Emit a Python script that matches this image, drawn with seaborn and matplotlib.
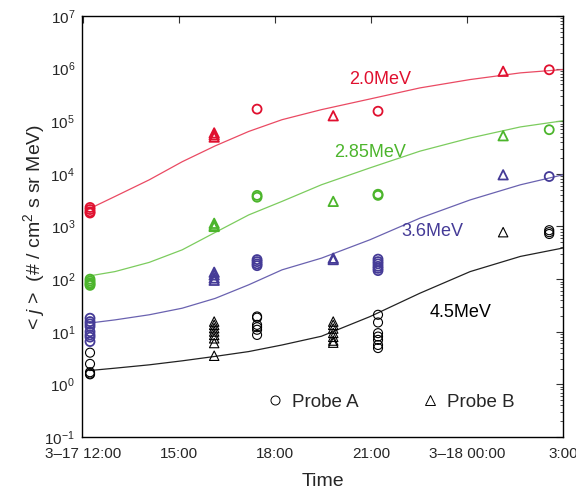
import numpy as np
import pandas as pd
import seaborn as sns
import matplotlib
matplotlib.use("Agg")
import matplotlib.pyplot as plt
from matplotlib.lines import Line2D
from matplotlib.ticker import LogLocator, LogFormatterSciNotation, FixedLocator, NullFormatter

# ---------------- data (hours since 3-17 00:00) ----------------
t_obs = [12.22, 16.10, 17.44, 19.82, 21.22, 25.13, 26.57]
probe_at = ["A", "B", "A", "B", "A", "B", "A"]

red_pts = [[2300, 2100, 1900, 1800], [60000, 55000, 50000], [170000], [127000],
           [155000], [890000], [950000]]
green_pts = [[100, 92, 85, 80, 76], [1150, 1050, 1000], [3900, 3600], [3000],
             [4100, 3900], [53000], [69000]]
blue_pts = [[18.1, 15.6, 14.1, 12.6, 10.0, 8.7, 7.9, 6.5], [135, 120, 105, 95],
            [235, 215, 195, 180], [250, 235], [240, 215, 195, 175, 160, 145],
            [9600], [8900]]
black_pts = [[4.0, 2.45, 1.7, 1.6, 1.55],
             [15.6, 13.5, 11.7, 10.1, 8.7, 7.5, 6.1, 3.5],
             [19.5, 18.5, 13.5, 12.2, 10.9, 8.7],
             [15.6, 13.5, 11.5, 9.5, 8.0, 6.8, 6.2],
             [21, 15, 9.4, 8.1, 7.0, 5.6, 4.9],
             [780], [850, 780, 720]]

t_fit = [12.2, 13.0, 14.07, 15.1, 16.13, 17.18, 18.22, 19.45, 20.97, 22.53, 24.1, 25.67, 27.0]
red_fit = [2170, 3720, 7700, 17000, 34000, 64000, 107000, 166000, 265000, 430000, 620000, 830000, 960000]
green_fit = [115, 139, 208, 360, 770, 1660, 3000, 6200, 13000, 27000, 48000, 78000, 102000]
blue_fit = [14.6, 16.8, 21, 28, 43, 78, 150, 250, 560, 1440, 3200, 6200, 9600]
black_fit = [1.83, 2.03, 2.35, 2.8, 3.4, 4.2, 5.6, 8.2, 19.4, 54, 139, 270, 390]

energies = ["2.0MeV", "2.85MeV", "3.6MeV", "4.5MeV"]
colors = ["#e0102f", "#4cb52c", "#453b97", "#000000"]
line_colors = ["#ea4a63", "#7ccc5e", "#6a62b0", "#222222"]
label_pos = [(21.29, 6.2e5), (20.97, 2.6e4), (22.91, 790), (23.79, 22.9)]

xticks = [12, 15, 18, 21, 24, 27]
xticklabels = ["3\u201317 12:00", "15:00", "18:00", "21:00", "3\u201318 00:00", "3:00"]

# ---------------- tables ----------------
rows = []
for e, pts in zip(energies, [red_pts, green_pts, blue_pts, black_pts]):
    for t, p, vals in zip(t_obs, probe_at, pts):
        for v in vals:
            rows.append(dict(time=t, flux=v, energy=e, probe=p))
obs = pd.DataFrame(rows)

fits = pd.concat([pd.DataFrame(dict(time=t_fit, flux=f, energy=e))
                  for e, f in zip(energies, [red_fit, green_fit, blue_fit, black_fit])])

# ---------------- plot ----------------
sns.set_style("white")
plt.rcParams["font.family"] = ["Liberation Sans", "DejaVu Sans"]
plt.rcParams["mathtext.fontset"] = "custom"
plt.rcParams["mathtext.rm"] = "Liberation Sans"
plt.rcParams["mathtext.it"] = "Liberation Sans:italic"

fig = plt.figure(figsize=(5.76, 4.95), dpi=100)
ax = fig.add_axes([0.1424, 0.1172, 0.8350, 0.8505])
ax.set_yscale("log")

for e, c, lc in zip(energies, colors, line_colors):
    sub = fits[fits.energy == e]
    sns.lineplot(data=sub, x="time", y="flux", color=lc, lw=0.9, ax=ax, legend=False)

for e, c in zip(energies, colors):
    lw = 0.8 if e == "4.5MeV" else 1.3
    for p, m in [("A", "o"), ("B", "^")]:
        sub = obs[(obs.energy == e) & (obs.probe == p)]
        sns.scatterplot(data=sub, x="time", y="flux", marker=m, s=42 if m == "o" else 46,
                        facecolor="none", edgecolor=c, linewidth=lw, ax=ax, legend=False,
                        zorder=3)

for e, c, (x, y) in zip(energies, colors, label_pos):
    ax.text(x, y, e, color=c, fontsize=13, ha="center", va="center")

ax.set_xlim(11.97, 27.0)
ax.set_ylim(1e-1, 1e7)
ax.xaxis.set_major_locator(FixedLocator(xticks))
ax.set_xticklabels(xticklabels)
ax.yaxis.set_major_locator(LogLocator(base=10, numticks=20))
ax.yaxis.set_minor_locator(LogLocator(base=10, subs=np.arange(2, 10), numticks=20))
ax.yaxis.set_minor_formatter(NullFormatter())
ax.yaxis.set_major_formatter(LogFormatterSciNotation())
ax.tick_params(axis="both", which="both", direction="in", top=True, right=True,
               labelsize=11, color="#333333")
ax.tick_params(which="major", length=5, width=0.8)
ax.tick_params(which="minor", length=2.5, width=0.6)
ax.tick_params(axis="x", which="major", pad=7.5)
ax.tick_params(axis="y", which="major", pad=5)
for sp in ax.spines.values():
    sp.set_linewidth(1.0)
    sp.set_color("black")

ax.set_xlabel("Time", fontsize=14, labelpad=8)
ax.set_ylabel("< $\\mathit{j}$ >  (# / cm$^2$ s sr MeV)", fontsize=14)
ax.yaxis.set_label_coords(-0.072, 0.5)

handles = [Line2D([], [], marker="o", ls="none", mfc="none", mec="black", mew=0.7, ms=6.5),
           Line2D([], [], marker="^", ls="none", mfc="none", mec="black", mew=0.7, ms=6.5)]
ax.legend(handles, ["Probe A", "Probe B"], ncol=2, frameon=False, loc="center",
          bbox_to_anchor=(0.64, 0.083), fontsize=13.5, handletextpad=0.4, columnspacing=3.3,
          handlelength=1.0)

fig.savefig("out.png", dpi=100)
